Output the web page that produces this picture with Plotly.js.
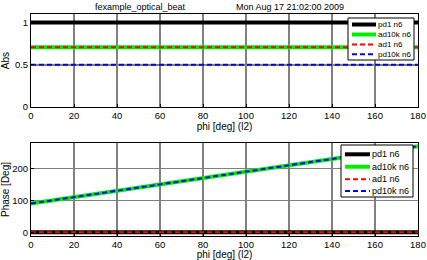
<!DOCTYPE html>
<html><head><meta charset="utf-8">
<script src="https://cdn.plot.ly/plotly-3.0.1.min.js"></script>
<style>html,body{margin:0;padding:0;background:#fff}#plot{width:427px;height:260px}</style>
</head><body><div id="plot"></div>
<script>
const phi = [0, 20, 40, 60, 80, 100, 120, 140, 160, 180];
const absPd1 = [1, 1, 1, 1, 1, 1, 1, 1, 1, 1];
const absAd10k = [0.707, 0.707, 0.707, 0.707, 0.707, 0.707, 0.707, 0.707, 0.707, 0.707];
const absAd1 = [0.707, 0.707, 0.707, 0.707, 0.707, 0.707, 0.707, 0.707, 0.707, 0.707];
const absPd10k = [0.5, 0.5, 0.5, 0.5, 0.5, 0.5, 0.5, 0.5, 0.5, 0.5];
const phPd1 = [0, 0, 0, 0, 0, 0, 0, 0, 0, 0];
const phAd10k = [90, 110, 130, 150, 170, 190, 210, 230, 250, 270];
const phAd1 = [0, 0, 0, 0, 0, 0, 0, 0, 0, 0];
const phPd10k = [90, 110, 130, 150, 170, 190, 210, 230, 250, 270];
const names = ['pd1 n6', 'ad10k n6', 'ad1 n6', 'pd10k n6'];
const xTicks = [0, 20, 40, 60, 80, 100, 120, 140, 160, 180];
const titleLeft = 'fexample_optical_beat';
const titleRight = 'Mon Aug 17 21:02:00 2009';
const xLabel = 'phi [deg] (l2)';

const W = 427, H = 260, ML = 31, MR = 9, MT = 14, MB = 24;
const PW = W - ML - MR, PH = H - MT - MB;
const px = v => (v - ML) / PW;
const py = v => (H - MB - v) / PH;

const styles = [
  {color: '#000000', width: 4, dash: 'solid'},
  {color: '#00ee00', width: 4, dash: 'solid'},
  {color: '#ff0000', width: 2, dash: '5px,3px'},
  {color: '#0000ff', width: 2, dash: '5px,3px'}
];
const absData = [absPd1, absAd10k, absAd1, absPd10k];
const phData = [phPd1, phAd10k, phAd1, phPd10k];
const traces = [];
for (let i = 0; i < 4; i++) {
  traces.push({x: phi, y: absData[i], name: names[i], mode: 'lines', line: styles[i],
    xaxis: 'x', yaxis: 'y', showlegend: false});
}
for (let i = 0; i < 4; i++) {
  traces.push({x: phi, y: phData[i], name: names[i], mode: 'lines', line: styles[i],
    xaxis: 'x2', yaxis: 'y2', showlegend: false});
}
const fam = 'Liberation Sans, Arial, sans-serif';
const font = {family: fam, size: 10, color: '#000'};
const tickfont = {family: fam, size: 9.5, color: '#000'};
const tfont = {family: fam, size: 9, color: '#000'};
const axBase = {showline: true, mirror: true, linecolor: '#000', linewidth: 1,
  ticks: 'inside', ticklen: 3, tickcolor: '#000', showgrid: true, gridcolor: '#808080',
  gridwidth: 1.6, zeroline: false, tickfont: tickfont};

// manual legends (box, sample lines, labels)
const shapes = [];
const annotations = [
  {text: titleLeft, xref: 'paper', yref: 'paper', x: px(140), y: 1, xanchor: 'center', yanchor: 'bottom', yshift: 0, showarrow: false, font: tfont},
  {text: titleRight, xref: 'paper', yref: 'paper', x: px(290), y: 1, xanchor: 'center', yanchor: 'bottom', yshift: 0, showarrow: false, font: tfont}
];
function addLegend(box, rows, sx0, sx1, tx, fsize) {
  shapes.push({type: 'rect', xref: 'paper', yref: 'paper', x0: px(box[0]), x1: px(box[1]), y0: py(box[3]), y1: py(box[2]),
    fillcolor: '#fff', line: {color: '#000', width: 1}});
  for (let i = 0; i < 4; i++) {
    shapes.push({type: 'line', xref: 'paper', yref: 'paper', x0: px(sx0), x1: px(sx1), y0: py(rows[i]), y1: py(rows[i]),
      line: {color: styles[i].color, width: styles[i].width, dash: styles[i].dash}});
    annotations.push({text: names[i], xref: 'paper', yref: 'paper', x: px(tx), y: py(rows[i]), xanchor: 'left', yanchor: 'middle',
      showarrow: false, font: {family: fam, size: fsize, color: '#000'}, borderpad: 0});
  }
}
addLegend([348, 414, 18, 60], [24.5, 34.5, 44.5, 54.3], 352, 376, 377, 8);
addLegend([341, 413, 145, 197], [154.3, 166.7, 179.3, 191], 345, 370, 371, 9);

const layout = {
  width: W, height: H,
  margin: {l: ML, r: MR, t: MT, b: MB},
  paper_bgcolor: '#fff', plot_bgcolor: '#fff',
  font: font,
  showlegend: false,
  xaxis: Object.assign({}, axBase, {domain: [0, 1], range: [0, 180], tickvals: xTicks, anchor: 'y',
    title: {text: xLabel, font: font, standoff: 2}}),
  yaxis: Object.assign({}, axBase, {domain: [py(107), 1], range: [0, 1.1], tickvals: [0, 0.5, 1], anchor: 'x',
    title: {text: 'Abs', font: font, standoff: 3}}),
  xaxis2: Object.assign({}, axBase, {domain: [0, 1], range: [0, 180], tickvals: xTicks, anchor: 'y2',
    title: {text: xLabel, font: font, standoff: 2}}),
  yaxis2: Object.assign({}, axBase, {domain: [0, py(143)], range: [-12, 280], tickvals: [0, 100, 200], anchor: 'x2',
    title: {text: 'Phase [Deg]', font: font, standoff: 3}}),
  shapes: shapes,
  annotations: annotations
};
Plotly.newPlot('plot', traces, layout, {displayModeBar: false, staticPlot: true});
</script></body></html>
